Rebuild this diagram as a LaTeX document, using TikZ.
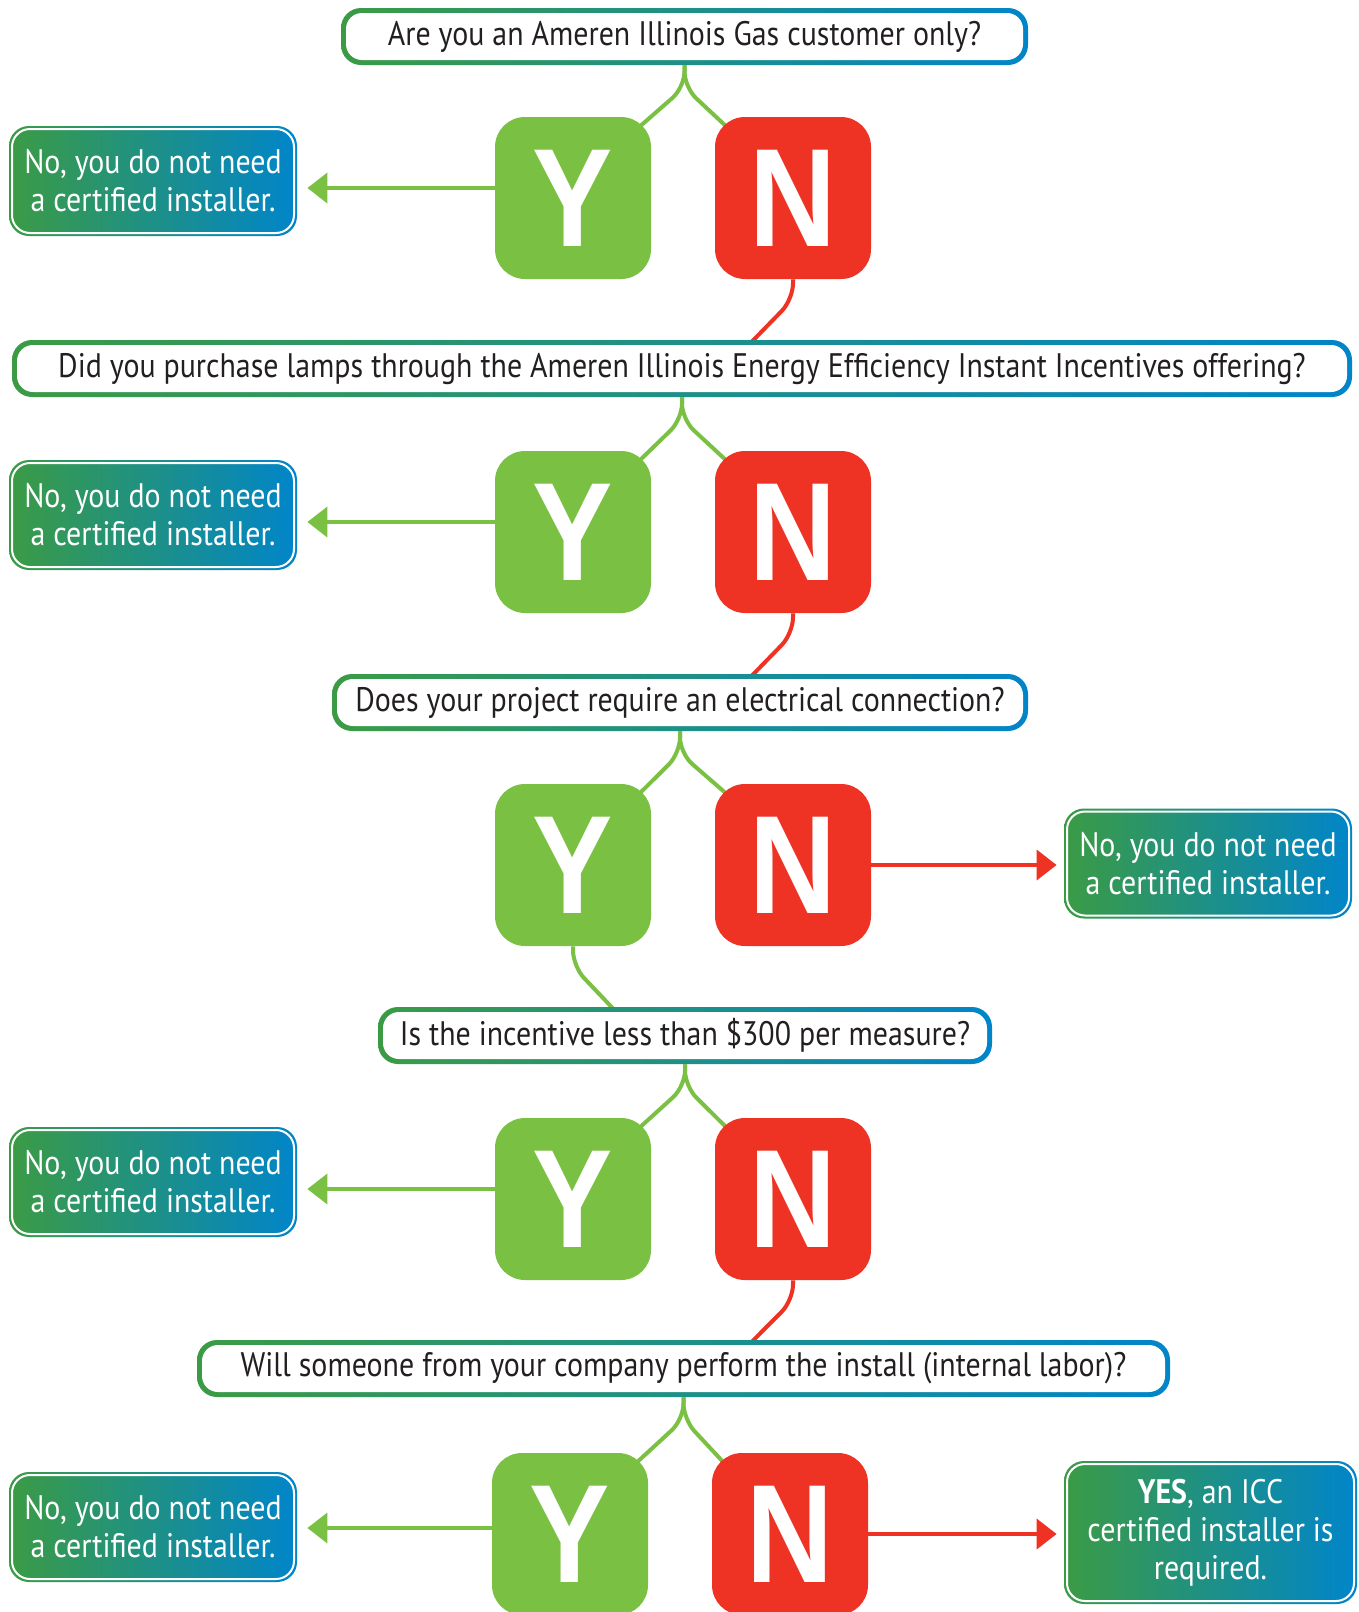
\documentclass[tikz,border=0pt]{standalone}
\usepackage{fontspec}
\setmainfont{PT Sans}[FakeStretch=0.88]
\newfontfamily\letterfont{Liberation Sans}[FakeStretch=0.86]
\usetikzlibrary{arrows.meta}
\definecolor{grad_green}{RGB}{59,155,68}
\definecolor{grad_blue}{RGB}{0,133,202}
\definecolor{box_green}{RGB}{122,193,67}
\definecolor{box_red}{RGB}{238,50,36}
\definecolor{text_gray}{RGB}{35,31,32}
\pgfdeclarelayer{back}
\pgfsetlayers{back,main}
\tikzstyle{question} = [rectangle, rounded corners=10pt, minimum height=28.5pt, inner sep=0pt, left color=grad_green, right color=grad_blue, text=text_gray, font=\fontsize{17}{20}\selectfont, path picture={\fill[white, rounded corners=8pt] ([shift={(2.5pt,2.5pt)}]path picture bounding box.south west) rectangle ([shift={(-2.5pt,-2.5pt)}]path picture bounding box.north east);}]
\tikzstyle{answer} = [rectangle, rounded corners=10pt, minimum width=144pt, minimum height=55pt, inner sep=0pt, align=center, left color=grad_green, right color=grad_blue, text=white, font=\fontsize{17}{19}\selectfont, path picture={\draw[white, line width=1pt, rounded corners=9pt] ([shift={(1.5pt,1.5pt)}]path picture bounding box.south west) rectangle ([shift={(-1.5pt,-1.5pt)}]path picture bounding box.north east);}]
\tikzstyle{ybox} = [rectangle, rounded corners=15pt, minimum width=78pt, minimum height=81pt, inner sep=0pt, fill=box_green, text=white, font=\letterfont\bfseries\fontsize{70}{70}\selectfont]
\tikzstyle{nbox} = [ybox, fill=box_red]
\tikzstyle{link_green} = [line width=2pt, draw=box_green, rounded corners=8pt]
\tikzstyle{link_red} = [line width=2pt, draw=box_red, rounded corners=8pt]
\tikzstyle{arrow_green} = [line width=2pt, draw=box_green, -{Triangle[width=15pt,length=10pt]}, shorten >=5pt]
\tikzstyle{arrow_red} = [line width=2pt, draw=box_red, -{Triangle[width=15pt,length=10pt]}, shorten >=3.5pt]
\begin{document}
\begin{tikzpicture}[x=0.5pt, y=-0.5pt, node distance=110pt]
	\clip (0,0) rectangle (1359,1612);
	% row 1
	\node (q1) [question, minimum width=343.5pt] at (684.5,36.5) {Are you an Ameren Illinois Gas customer only?};
	\node (yes1) [ybox] at (573,198) {Y};
	\node (no1) [nbox, right of=yes1] {N};
	\node (ans1) [answer] at (153,181) {No, you do not need\\a certified installer.};
	% row 2
	\node (q2) [question, minimum width=670pt] at (682,368.5) {Did you purchase lamps through the Ameren Illinois Energy Efficiency Instant Incentives offering?};
	\node (yes2) [ybox] at (573,532) {Y};
	\node (no2) [nbox, right of=yes2] {N};
	\node (ans2) [answer] at (153,515) {No, you do not need\\a certified installer.};
	% row 3
	\node (q3) [question, minimum width=348pt] at (680,702.5) {Does your project require an electrical connection?};
	\node (yes3) [ybox] at (573,865) {Y};
	\node (no3) [nbox, right of=yes3] {N};
	\node (ans3) [answer] at (1208,863.5) {No, you do not need\\a certified installer.};
	% row 4
	\node (q4) [question, minimum width=307pt] at (685,1035.5) {Is the incentive less than \$300 per measure?};
	\node (yes4) [ybox] at (573,1199) {Y};
	\node (no4) [nbox, right of=yes4] {N};
	\node (ans4) [answer] at (153,1182) {No, you do not need\\a certified installer.};
	% row 5
	\node (q5) [question, minimum width=486.5pt] at (683.5,1368.5) {Will someone from your company perform the install (internal labor)?};
	\node (yes5) [ybox] at (570,1534) {Y};
	\node (no5) [nbox, right of=yes5] {N};
	\node (ans5) [answer] at (153,1527) {No, you do not need\\a certified installer.};
	\node (ans6) [answer, minimum width=146.5pt, minimum height=71.5pt] at (1210.5,1532.5) {\textbf{YES}, an ICC\\certified installer is\\required.};
	% links under the boxes
	\begin{pgfonlayer}{back}
		\fill [white] (0,0) rectangle (1359,1612);
		\draw [link_green] (q1.south) -- ++(0,22) -- ([shift={(-7pt,-6pt)}]yes1.north east);
		\draw [link_green] (q1.south) -- ++(0,22) -- ([shift={(7pt,-6pt)}]no1.north west);
		\draw [link_red] (no1.south) -- ++(0,20) -- ([xshift=-21.5pt, yshift=-2pt]no1.south |- q2.north);
		\draw [link_green] (q2.south) -- ++(0,22) -- ([shift={(-7pt,-6pt)}]yes2.north east);
		\draw [link_green] (q2.south) -- ++(0,22) -- ([shift={(7pt,-6pt)}]no2.north west);
		\draw [link_red] (no2.south) -- ++(0,20) -- ([xshift=-21.5pt, yshift=-2pt]no2.south |- q3.north);
		\draw [link_green] (q3.south) -- ++(0,22) -- ([shift={(-7pt,-6pt)}]yes3.north east);
		\draw [link_green] (q3.south) -- ++(0,22) -- ([shift={(7pt,-6pt)}]no3.north west);
		\draw [link_green] (yes3.south) -- ++(0,20) -- ([xshift=21pt, yshift=-2pt]yes3.south |- q4.north);
		\draw [link_green] (q4.south) -- ++(0,22) -- ([shift={(-7pt,-6pt)}]yes4.north east);
		\draw [link_green] (q4.south) -- ++(0,22) -- ([shift={(7pt,-6pt)}]no4.north west);
		\draw [link_red] (no4.south) -- ++(0,20) -- ([xshift=-21.5pt, yshift=-2pt]no4.south |- q5.north);
		\draw [link_green] (q5.south) -- ++(0,22) -- ([shift={(-7pt,-6pt)}]yes5.north east);
		\draw [link_green] (q5.south) -- ++(0,22) -- ([shift={(7pt,-6pt)}]no5.north west);
	\end{pgfonlayer}
	% arrows to the answers
	\draw [arrow_green] ([yshift=5pt]yes1.west) -- ([yshift=5pt]yes1.west -| ans1.east);
	\draw [arrow_green] ([yshift=5pt]yes2.west) -- ([yshift=5pt]yes2.west -| ans2.east);
	\draw [arrow_red] (no3.east) -- (no3.east -| ans3.west);
	\draw [arrow_green] ([yshift=5pt]yes4.west) -- ([yshift=5pt]yes4.west -| ans4.east);
	\draw [arrow_green] ([yshift=3pt]yes5.west) -- ([yshift=3pt]yes5.west -| ans5.east);
	\draw [arrow_red] (no5.east) -- (no5.east -| ans6.west);
\end{tikzpicture}
\end{document}
